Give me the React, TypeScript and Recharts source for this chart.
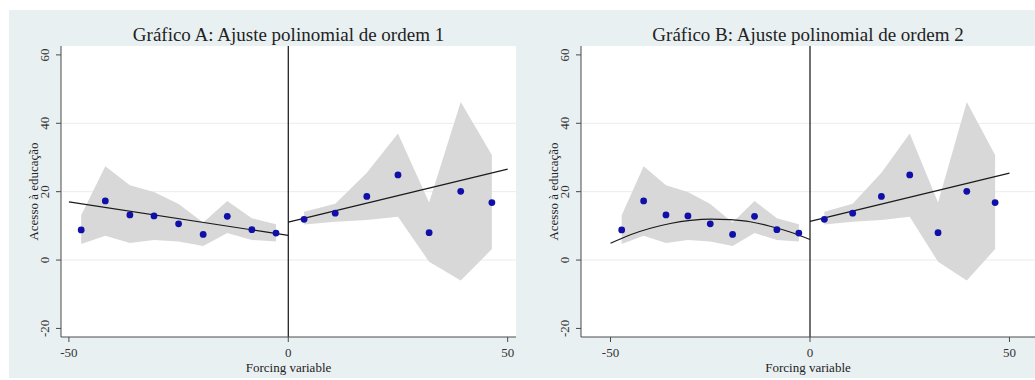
import {
  Area,
  CartesianGrid,
  ComposedChart,
  Line,
  ReferenceLine,
  Scatter,
  XAxis,
  YAxis,
} from "recharts";


// binned means, left of the cutoff
const leftBins = [-47.2, -41.7, -36.1, -30.6, -25.0, -19.4, -13.9, -8.3, -2.8];
const leftMeans = [8.8, 17.3, 13.2, 12.9, 10.6, 7.5, 12.8, 8.9, 7.9];
const leftUpper = [13.1, 27.4, 21.9, 19.9, 16.4, 11.0, 17.3, 12.2, 10.5];
const leftLower = [4.7, 7.1, 5.0, 5.9, 5.4, 4.1, 7.9, 5.9, 5.4];

// binned means, right of the cutoff
const rightBins = [3.6, 10.7, 17.9, 25.0, 32.1, 39.3, 46.4];
const rightMeans = [11.9, 13.7, 18.6, 24.9, 8.0, 20.1, 16.8];
const rightUpper = [14.1, 16.5, 25.5, 37.0, 16.8, 46.2, 30.7];
const rightLower = [10.4, 11.2, 11.7, 12.7, -0.5, -6.0, 3.2];

// fitted lines
const fitAX = [-50, 0];
const fitALeft = [17.0, 7.2];
const fitRightX = [0, 50];
const fitARight = [11.1, 26.6];
const fitBLeftX = [-50, -45, -40, -35, -30, -25, -20, -15, -10, -5, 0];
const fitBLeft = [4.9, 7.4, 9.3, 10.7, 11.6, 12.0, 11.8, 11.2, 9.9, 8.2, 6.0];
const fitBRight = [11.3, 25.4];

const xTicks = [-50, 0, 50];
const yTicks = [-20, 0, 20, 40, 60];
const gridValues = [0, 20, 40];

const FONT = '"Liberation Serif", "Times New Roman", serif';
const AXIS = "#4a4a4a";
const DOT = "#1010a8";
const BAND = "#d8d8d8";
const FIT = "#1a1a1a";


const band = (xs: number[], lo: number[], hi: number[]) =>
  xs.map((x, i) => ({ x, band: [lo[i], hi[i]] }));

const pts = (xs: number[], ys: number[]) => xs.map((x, i) => ({ x, y: ys[i] }));


function XTick({ x, y, payload }: any) {
  return (
    <text x={x} y={y + 13} textAnchor="middle" fontSize={13} fill="#333" fontFamily={FONT}>
      {payload.value}
    </text>
  );
}

function YTick({ x, y, payload }: any) {
  const px = x - 9;
  return (
    <text
      x={px}
      y={y}
      transform={`rotate(-90, ${px}, ${y})`}
      textAnchor="middle"
      dominantBaseline="central"
      fontSize={13}
      fill="#333"
      fontFamily={FONT}
    >
      {payload.value}
    </text>
  );
}


type PanelProps = {
  left: number;
  width: number;
  marginRight: number;
  xDomain: [number, number];
  title: string;
  fitLeftX: number[];
  fitLeft: number[];
  fitRight: number[];
  curved: boolean;
};


function Panel({ left, width, marginRight, xDomain, title, fitLeftX, fitLeft, fitRight, curved }: PanelProps) {
  const plotLeft = 52;
  const plotRight = width - marginRight;

  return (
    <div style={{ position: "absolute", left, top: 10, width, height: 368 }}>
      <div
        style={{
          position: "absolute",
          left: plotLeft,
          width: plotRight - plotLeft,
          top: 14,
          textAlign: "center",
          fontFamily: FONT,
          fontSize: 19,
          color: "#222",
          lineHeight: "22px",
          whiteSpace: "nowrap",
        }}
      >
        {title}
      </div>
      <ComposedChart
        width={width}
        height={368}
        margin={{ top: 36, right: marginRight, left: 0, bottom: 0 }}
      >
        <CartesianGrid
          fill="#fff"
          fillOpacity={1}
          vertical={false}
          horizontalValues={gridValues}
          stroke="#ececec"
        />
        <XAxis
          type="number"
          dataKey="x"
          domain={xDomain}
          ticks={xTicks}
          allowDataOverflow
          height={41}
          stroke={AXIS}
          tickSize={5}
          tick={<XTick />}
          label={{
            content: ({ viewBox }: any) => (
              <text
                x={viewBox.x + viewBox.width / 2}
                y={viewBox.y + 35}
                textAnchor="middle"
                fontSize={13}
                fill="#222"
                fontFamily={FONT}
              >
                Forcing variable
              </text>
            ),
          }}
        />
        <YAxis
          type="number"
          domain={[-22.5, 62.6]}
          ticks={yTicks}
          allowDataOverflow
          width={52}
          stroke={AXIS}
          tickSize={5}
          tick={<YTick />}
          label={{
            content: ({ viewBox }: any) => {
              const cx = 24;
              const cy = viewBox.y + viewBox.height / 2;
              return (
                <text
                  x={cx}
                  y={cy}
                  transform={`rotate(-90, ${cx}, ${cy})`}
                  textAnchor="middle"
                  dominantBaseline="central"
                  fontSize={13}
                  fill="#222"
                  fontFamily={FONT}
                >
                  Acesso à educação
                </text>
              );
            },
          }}
        />
        <Area
          data={band(leftBins, leftLower, leftUpper)}
          dataKey="band"
          type="linear"
          stroke="none"
          fill={BAND}
          fillOpacity={1}
          isAnimationActive={false}
        />
        <Area
          data={band(rightBins, rightLower, rightUpper)}
          dataKey="band"
          type="linear"
          stroke="none"
          fill={BAND}
          fillOpacity={1}
          isAnimationActive={false}
        />
        <Line
          data={pts(fitLeftX, fitLeft)}
          dataKey="y"
          type={curved ? "monotone" : "linear"}
          stroke={FIT}
          strokeWidth={1.2}
          dot={false}
          isAnimationActive={false}
        />
        <Line
          data={pts(fitRightX, fitRight)}
          dataKey="y"
          type="linear"
          stroke={FIT}
          strokeWidth={1.2}
          dot={false}
          isAnimationActive={false}
        />
        <Scatter
          data={pts(leftBins, leftMeans)}
          dataKey="y"
          fill={DOT}
          shape={(p: any) => <circle cx={p.cx} cy={p.cy} r={3.4} fill={DOT} />}
          isAnimationActive={false}
        />
        <Scatter
          data={pts(rightBins, rightMeans)}
          dataKey="y"
          fill={DOT}
          shape={(p: any) => <circle cx={p.cx} cy={p.cy} r={3.4} fill={DOT} />}
          isAnimationActive={false}
        />
        <ReferenceLine x={0} stroke="#111" strokeWidth={1.2} />
      </ComposedChart>
    </div>
  );
}


export default function App() {
  return (
    <div style={{ position: "absolute", left: 0, top: 0, width: 1035, height: 380, background: "#fff", overflow: "hidden" }}>
      <div style={{ position: "absolute", left: 9, top: 10, width: 1026, height: 368, background: "#e9f0f2" }} />
      <Panel
        left={9}
        width={520}
        marginRight={13}
        xDomain={[-51.8, 51.9]}
        title="Gráfico A: Ajuste polinomial de ordem 1"
        fitLeftX={fitAX}
        fitLeft={fitALeft}
        fitRight={fitARight}
        curved={false}
      />
      <Panel
        left={529}
        width={506}
        marginRight={0}
        xDomain={[-57.4, 56.4]}
        title="Gráfico B: Ajuste polinomial de ordem 2"
        fitLeftX={fitBLeftX}
        fitLeft={fitBLeft}
        fitRight={fitBRight}
        curved
      />
    </div>
  );
}
